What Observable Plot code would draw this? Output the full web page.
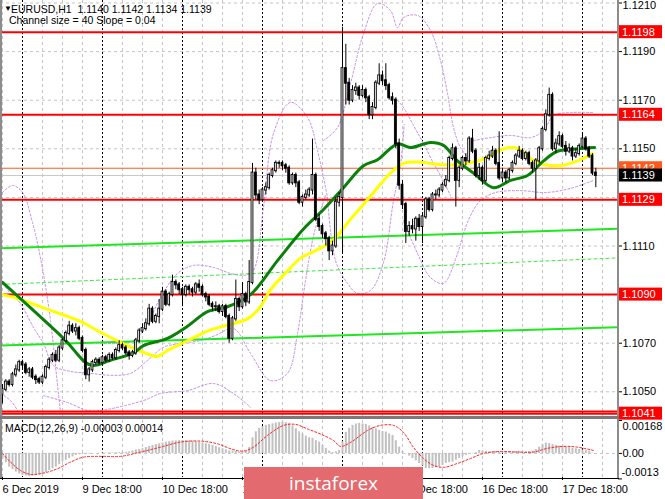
<!DOCTYPE html>
<html>
<head>
<meta charset="utf-8">
<script src="https://cdn.jsdelivr.net/npm/d3@7"></script>
<script src="https://cdn.jsdelivr.net/npm/@observablehq/plot@0.6"></script>
<style>
html,body{margin:0;padding:0;background:#fff;}
#chart{position:relative;width:665px;height:499px;overflow:hidden;background:#fff;font-family:"Liberation Sans",Arial,sans-serif;}
#main,#macd{position:absolute;left:0;}
#main{top:0;}
#macd{top:419px;}
.lbl{position:absolute;font-size:10.5px;line-height:12px;color:#000;white-space:pre;}
.ln{position:absolute;}
#logo{position:absolute;left:244px;top:467px;width:179px;height:32px;background:#e36a6e;color:#fff;font-family:"Open Sans",sans-serif;font-size:19px;line-height:32px;text-align:center;}
</style>
</head>
<body>
<div id="chart">
  <div id="main"></div>
  <div id="macd"></div>
  <div class="ln" style="left:0;top:0;width:1.5px;height:478px;background:#8c8c8c"></div>
  <div class="ln" style="left:617px;top:0;width:2px;height:479px;background:#8c8c8c"></div>
  <div class="ln" style="left:0;top:416px;width:619px;height:3px;background:#7a7a7a"></div>
  <div class="ln" style="left:0;top:477.5px;width:619px;height:1px;background:#000"></div>
  <div class="lbl" style="left:4px;top:3px;font-size:8px">▼</div>
  <div class="lbl" id="hdr1" style="left:11px;top:3px"></div>
  <div class="lbl" id="hdr2" style="left:9px;top:14px"></div>
  <div class="lbl" id="hdr3" style="left:5px;top:422px"></div>
  <div id="logo">instaforex</div>
</div>
<script>
// ---------- DATA (prices in pips above 1.1000) ----------
const symbol = "EURUSD,H1";
const channelText = "Channel size = 40 Slope = 0.04";
const macdName = "MACD(12,26,9)";
const macdLast = [-0.00003, 0.00014];
const firstOpen = 49;
const close = [
51,54,53,57,59,62,61,58,59,56,
55,54,56,60,63,65,63,68,71,74,
77,75,76,72,67,57,59,62,63,62,
64,63,65,64,67,69,68,66,65,66,
71,75,76,78,84,79,81,84,91,86,
90,95,94,92,90,93,92,91,94,93,
90,89,86,85,85,83,85,81,72,80,
88,85,90,87,95,140,131,129,133,134,
139,141,144,144,143,142,136,139,136,128,
130,131,133,139,121,118,115,113,108,110,
128,130,183,177,170,174,175,172,174,171,
164,167,177,180,178,176,171,170,152,135,
127,116,118,117,121,118,122,129,125,131,
131,133,135,137,146,150,137,142,146,145,
154,149,139,142,137,146,147,149,144,138,
140,138,141,144,147,149,146,148,144,142,
145,150,158,164,172,150,152,155,151,149,
150,147,148,151,154,150,147,140,139];
const high = [
53,55,55,58,61,63,63,62,60,60,
57,56,57,61,64,66,67,69,72,75,
79,78,78,77,73,68,60,63,64,64,
65,65,66,66,68,71,70,69,67,67,
72,76,78,80,86,85,82,88,93,92,
91,98,96,95,93,94,94,93,95,96,
94,91,90,87,87,86,86,86,82,81,
96,89,95,91,104,144,142,133,134,136,
140,142,145,145,145,144,143,140,140,137,
131,133,134,154,140,123,119,116,114,112,
130,132,200,193,179,176,177,176,176,175,
172,169,178,185,182,185,177,173,171,154,
137,128,120,121,122,123,123,130,130,132,
133,134,136,139,147,152,151,143,147,148,
155,158,150,144,143,147,149,151,150,157,
142,141,142,145,148,151,150,149,149,145,
146,151,159,166,175,173,154,157,156,153,
152,151,150,152,156,155,151,148,142];
const low = [
45,50,52,52,56,58,59,57,56,55,
53,53,53,55,59,62,62,62,67,70,
73,74,73,71,66,55,54,58,61,61,
61,62,62,63,63,66,67,65,63,64,
65,70,74,75,77,78,78,78,83,85,
85,89,92,90,85,89,90,89,90,91,
89,87,85,83,83,82,81,80,70,71,
79,83,84,85,86,94,129,127,128,131,
133,138,140,142,141,140,135,135,134,127,
126,129,130,131,120,116,113,110,104,106,
109,126,107,168,168,169,172,170,171,169,
162,162,166,176,176,174,170,168,150,133,
125,111,114,115,112,116,111,121,124,124,
129,130,132,134,136,145,126,134,141,143,
144,148,138,137,135,136,145,146,143,137,
136,136,137,140,143,146,145,145,143,140,
129,144,149,157,163,149,148,151,150,147,
148,145,146,147,150,149,146,139,134];

// moving averages: [bar, pips]
const greenMA = [[0,95],[18.3,72],[26.4,61],[32.4,63],[39.3,66],[42.3,69],[49.5,72],[55.5,77],[61.5,83],[67.5,85],[74.4,90],[82.5,104],[90.3,117],[96.3,125],[102.3,134],[108.3,143],[112.5,145.5],[118.5,152],[122.4,150.5],[128.4,152.6],[132.3,151.4],[136.5,145],[141.3,140],[147.3,134],[152.4,137],[157.5,139],[162.3,145],[166.5,149],[172.5,150],[177.6,150.5]];
const yellowMA = [[0,90],[5.4,88],[14.4,83.5],[23.4,79],[29.4,74.5],[37.5,69],[43.5,65.6],[46.5,64.5],[49.5,67],[55.5,71],[61.5,75],[67.5,77.5],[73.5,80],[77.4,85],[80.4,92],[86.4,101],[89.4,105],[94.5,108.5],[99.3,112.5],[104.4,121],[110.4,130.5],[116.4,140],[120.3,144],[125.4,144.5],[131.4,143.5],[136.5,143.5],[141.3,144.5],[145.5,146.5],[149.4,149.5],[153.3,150.5],[156.4,148.5],[159.3,145],[166.5,143],[172.5,145],[177,148]];

// purple dotted band curves: [bar, pips]
const purpleA = [[0,132],[3,134.9],[6,132],[9,119.7],[12,100.7],[14.4,79.3],[16.2,56.7],[17.4,41.5]];
const purpleB = [[-0.6,95.8],[2.4,90.5],[5.4,86.3],[9.3,76.4],[12.3,69.9],[15.3,60.8],[20.4,58.4],[26.4,57.6],[32.4,56.8],[38.4,57.6],[43.5,62.9],[48.3,68.3],[53.4,69.9],[59.4,71.1],[63.9,73.2],[69.3,76],[74.4,65.8],[80.4,54.6],[85.5,57.6],[88.5,74],[90.9,95.8],[93,112.3],[95.4,124.6],[96.9,130.8]];
const purpleC = [[-0.6,49.3],[2.4,46.4],[4.5,42.3]];
const purpleD = [[12.3,48.4],[19.5,45.6],[25.5,42.3],[29.4,42.3],[42.3,46.4],[47.4,49.3],[55.5,50.5],[63.3,53.4],[69.3,49.3],[74.4,43.6]];
const purpleE = [[29.4,69.9],[39.3,71.1],[43.5,78.1],[47.4,88.8],[52.5,98.7],[57.3,102],[63.3,101.2],[68.4,98.7],[72.9,98],[75.3,100],[78.3,126],[81.3,156.3],[86.4,169.1],[91.5,162.9],[94.5,149.3],[97.5,130]];
const purpleF = [[96.3,153.4],[100.5,158.8],[104.4,176.9],[108.3,197.4],[112.5,209.8],[116.4,206.9],[118.5,199.9],[120.3,204],[124.5,204.9],[128.4,198.7],[131.4,186.3],[133.5,172.8],[135.3,158.8],[137.4,150.5],[140.4,145.2]];
const purpleG = [[97.5,130],[99.9,104],[103.5,94.6],[106.5,90.5],[110.4,91.7],[114.3,103.2],[117.3,128.7],[119.4,143.1],[120.5,160]];
const purpleH = [[118.5,169.9],[120.3,167],[123.3,159.6],[126.3,152.2],[129.3,144],[131.4,139],[134.4,130.8]];
const purpleI = [[120.3,120.5],[124.5,106.9],[128.4,97],[132.3,94.6],[136.5,106.9],[138.3,115.1],[140.4,122.5],[143.4,128.7],[147.9,132],[155.4,132.8],[162.9,132],[170.4,133.7],[177.3,137]];
const purpleJ = [[141.3,153.4],[146.4,154.6],[152.4,155.5],[158.4,154.6],[162.3,157.5],[165.3,163.7],[170.4,164.9],[177.3,164.9]];

// regression channel endpoints (price)
const channelUpper = [[-0.6,1.11091],[184.5,1.11171]];
const channelMid = [[-0.6,1.10942],[184.5,1.11051]];
const channelLower = [[-0.6,1.10691],[184.5,1.10766]];

// horizontal levels
const redLevels = [1.1198, 1.1164, 1.1129, 1.1090, 1.1041, 1.10419];
const askPrice = 1.1142;
const bidPrice = 1.1139;
const priceTicks = [1.1050,1.1070,1.1090,1.1110,1.1130,1.1150,1.1170,1.1190];
const topPriceTick = 1.1210;
const priceBoxes = [
  {price:1.1198, fill:"#ff0000", text:"1.1198"},
  {price:1.1164, fill:"#ff0000", text:"1.1164"},
  {price:1.1129, fill:"#ff0000", text:"1.1129"},
  {price:1.1090, fill:"#ff0000", text:"1.1090"},
  {price:1.1041, fill:"#ff0000", text:"1.1041"},
  {price:1.1142, fill:"#ff5a1e", text:"1.1142"},
  {price:1.1139, fill:"#000000", text:"1.1139"}
];

// MACD histogram (x 1e-5) and signal points
const macdHist = [
-27,-48,-70,-83,-95,-104,-112,-115,-117,-115,
-112,-110,-107,-97,-87,-78,-70,-57,-44,-35,
-27,-18,-10,-7,-5,-6,-3,-2,0,1,
2,2,3,3,4,5,5,6,8,13,
17,20,24,30,36,41,45,49,53,57,
60,63,64,65,66,65,64,63,60,56,
53,49,45,41,35,29,24,18,12,12,
10,7,8,12,30,80,110,128,137,143,
147,151,155,158,160,157,152,140,126,110,
100,88,80,77,65,58,40,26,12,5,
8,15,60,107,128,143,150,153,150,148,
140,133,125,117,112,109,100,92,65,32,
10,-2,-14,-26,-38,-51,-64,-77,-78,-77,
-73,-70,-60,-51,-47,-44,-35,-26,-18,-10,
-5,-2,5,15,12,10,8,10,9,7,
8,10,9,8,10,11,9,8,10,12,
20,32,45,53,50,45,41,38,35,32,
29,26,24,20,17,15,11,2,-3];
const macdSignal = [[0,0],[2.4,-44],[5.4,-87],[8.4,-107],[12.3,-100],[16.5,-78],[20.4,-44],[24.3,-19],[29.4,-15],[35.4,-15],[41.4,7],[47.4,32],[53.4,58],[59.4,63],[64.5,49],[69.3,19],[72.3,12],[75.3,32],[79.5,92],[84.3,143],[87.9,148],[91.5,125],[95.4,99],[99.3,66],[101.4,36],[104.4,56],[109.5,117],[113.4,143],[117.3,143],[120.3,107],[123.3,31],[126.3,-26],[129.3,-61],[132.3,-71],[136.5,-51],[140.4,-26],[144.3,0],[149.4,10],[154.5,7],[159.3,7],[163.5,26],[168.3,36],[172.5,32],[177.3,15]];
const macdTickTop = 0.00168, macdTickZero = 0, macdTickBottom = -0.0013;

// time axis
const dayLabelBars = [0,24,48,72,96,120,144,168];
const dayLabels = ["6 Dec 2019","9 Dec 18:00","10 Dec 18:00","11 Dec 18:00","12 Dec 18:00","13 Dec 18:00","16 Dec 18:00","17 Dec 18:00"];
const gridBars = d3.range(0, 184, 6);
const daySeps = d3.range(6, 184, 24);

// ---------- BUILD ----------
const P = p => 1.1 + p / 10000;
const bars = close.map((c, i) => ({
  bar: i,
  open: P(i === 0 ? firstOpen : close[i - 1]),
  close: P(c), high: P(high[i]), low: P(low[i])
}));
const bull = bars.filter(d => d.close >= d.open);
const bear = bars.filter(d => d.close < d.open);
const toRows = (arr, name) => arr.map(([b, p]) => ({bar: b, price: P(p), path: name}));
const purpleRows = [purpleA,purpleB,purpleC,purpleD,purpleE,purpleF,purpleG,purpleH,purpleI,purpleJ]
  .flatMap((a, k) => toRows(a, "p" + k));
const chanRows = [[channelUpper,"u"],[channelLower,"l"]].flatMap(([a,n]) => a.map(([b,p]) => ({bar:b, price:p, path:n})));
const midRows = channelMid.map(([b,p]) => ({bar:b, price:p}));

const xDomain = [-0.6, 184.5];
const font = {fontFamily: "Liberation Sans, Arial, sans-serif", fontSize: "11px", background: "transparent", overflow: "visible"};
const gridOpts = {stroke: "#c4c4c4", strokeDasharray: "3,3", strokeWidth: 1};

const main = Plot.plot({
  width: 665, height: 419, marginTop: 0, marginBottom: 2, marginLeft: 0, marginRight: 48,
  style: font,
  x: {domain: xDomain, range: [0, 617], axis: null},
  y: {domain: [1.103942, 1.121103], range: [417, 0]},
  marks: [
    Plot.ruleX(gridBars.filter(b => !daySeps.includes(b)), gridOpts),
    Plot.ruleY([...priceTicks, topPriceTick], gridOpts),
    Plot.ruleX(daySeps, {stroke: "#000", strokeDasharray: "2,2", strokeWidth: 1}),
    Plot.line(purpleRows, {x: "bar", y: "price", z: "path", stroke: "#c78be6", strokeWidth: 1, strokeDasharray: "2,2", curve: "catmull-rom", clip: true}),
    Plot.line(chanRows, {x: "bar", y: "price", z: "path", stroke: "#1ee81e", strokeWidth: 2}),
    Plot.line(midRows, {x: "bar", y: "price", stroke: "#3ee83e", strokeWidth: 1, strokeDasharray: "3,3"}),
    Plot.ruleY(redLevels, {stroke: "#ff0000", strokeWidth: 2}),
    Plot.ruleY([bidPrice], {stroke: "#c8c8c8", strokeWidth: 1}),
    Plot.ruleY([askPrice], {stroke: "#ff5a1e", strokeWidth: 1}),
    Plot.line(yellowMA.map(([b,p]) => ({bar:b, price:P(p)})), {x: "bar", y: "price", stroke: "#ffff00", strokeWidth: 3, curve: "catmull-rom"}),
    Plot.line(greenMA.map(([b,p]) => ({bar:b, price:P(p)})), {x: "bar", y: "price", stroke: "#0a800a", strokeWidth: 3, curve: "catmull-rom"}),
    Plot.ruleX(bars, {x: "bar", y1: "low", y2: "high", stroke: "#000", strokeWidth: 1}),
    Plot.rect(bull, {x1: d => d.bar - 0.28, x2: d => d.bar + 0.28, y1: "open", y2: "close", fill: "#fff", stroke: "#000", strokeWidth: 0.9, insetTop: -0.5, insetBottom: -0.5}),
    Plot.rect(bear, {x1: d => d.bar - 0.28, x2: d => d.bar + 0.28, y1: "open", y2: "close", fill: "#000", stroke: "#000", strokeWidth: 0.9, insetTop: -0.5, insetBottom: -0.5}),
    Plot.axisY({anchor: "right", ticks: [...priceTicks, topPriceTick], tickFormat: () => "", tickSize: 4, label: null}),
    Plot.text(priceTicks, {y: d => d, frameAnchor: "right", textAnchor: "start", dx: 5, text: d => d.toFixed(4), fontSize: 11}),
    Plot.text([topPriceTick], {y: d => d, frameAnchor: "right", textAnchor: "start", dx: 5, dy: 2, text: d => d.toFixed(4), fontSize: 11})
  ]
});
document.getElementById("main").appendChild(main);

// price label boxes on the right axis, positioned with the plot's y scale
const yS = main.scale("y");
const g = d3.select(main).append("g").attr("text-anchor", "start");
for (const b of priceBoxes) {
  const yy = yS.apply(b.price);
  g.append("rect").attr("x", 619).attr("y", yy - 6.5).attr("width", 43).attr("height", 13).attr("fill", b.fill);
  g.append("text").attr("x", 622).attr("y", yy + 4).attr("fill", "#fff").attr("font-size", 11)
    .attr("text-anchor", "start")
    .attr("font-family", "Liberation Sans, Arial, sans-serif").text(b.text);
}

const macdRows = macdHist.map((v, i) => ({bar: i, value: v / 1e5}));
const sigRows = macdSignal.map(([b, v]) => ({bar: b, value: v / 1e5}));
const labelMap = new Map(dayLabelBars.map((b, i) => [b, dayLabels[i]]));
const macd = Plot.plot({
  width: 665, height: 80, marginTop: 1, marginBottom: 22, marginLeft: 0, marginRight: 48,
  style: font,
  x: {domain: xDomain, range: [0, 617]},
  y: {domain: [-0.001228, 0.00168], range: [58, 1]},
  marks: [
    Plot.ruleX(gridBars.filter(b => !daySeps.includes(b)), gridOpts),
    Plot.ruleX(daySeps, {stroke: "#000", strokeDasharray: "2,2", strokeWidth: 1}),
    Plot.ruleY([0], gridOpts),
    Plot.ruleX(macdRows, {x: "bar", y1: 0, y2: "value", stroke: "#c0c0c0", strokeWidth: 2}),
    Plot.line(sigRows, {x: "bar", y: "value", stroke: "#ff2020", strokeWidth: 1, strokeDasharray: "2,2", curve: "catmull-rom"}),
    Plot.axisX({ticks: dayLabelBars, tickFormat: d => labelMap.get(d), textAnchor: "start", tickSize: 3, tickPadding: 5, label: null, fontSize: 11}),
    Plot.axisY({anchor: "right", ticks: [macdTickTop, macdTickZero, macdTickBottom], tickFormat: () => "", tickSize: 4, label: null}),
    Plot.text([macdTickTop], {y: d => d, frameAnchor: "right", textAnchor: "start", dx: 5, dy: 6, text: d => d.toFixed(5), fontSize: 11}),
    Plot.text([macdTickZero], {y: d => d, frameAnchor: "right", textAnchor: "start", dx: 5, text: d => d.toFixed(2), fontSize: 11}),
    Plot.text([macdTickBottom], {y: d => d, frameAnchor: "right", textAnchor: "start", dx: 4, dy: -6, text: d => d.toFixed(4), fontSize: 11})
  ]
});
document.getElementById("macd").appendChild(macd);

const last = bars[bars.length - 1];
document.getElementById("hdr1").textContent =
  `${symbol}  ${last.open.toFixed(4)} ${last.high.toFixed(4)} ${last.low.toFixed(4)} ${last.close.toFixed(4)}`;
document.getElementById("hdr2").textContent = channelText;
document.getElementById("hdr3").textContent = `${macdName} ${macdLast[0].toFixed(5)} ${macdLast[1].toFixed(5)}`;
</script>
</body>
</html>
